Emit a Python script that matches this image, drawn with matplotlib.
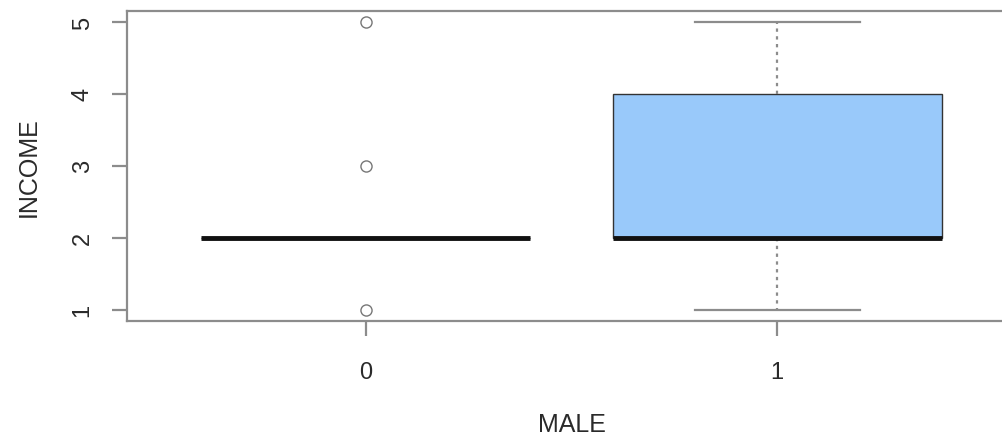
import matplotlib
matplotlib.use("Agg")
import matplotlib.pyplot as plt

# boxplot of INCOME split by MALE (summary stats per group)
groups = ["0", "1"]
medians = [2, 2]
q1 = [2, 2]
q3 = [2, 4]
whisk_lo = [2, 1]
whisk_hi = [2, 5]
outliers = [[1, 3, 5], []]

plt.rcParams["font.family"] = ["Liberation Sans", "DejaVu Sans"]

stats = []
for i, g in enumerate(groups):
    stats.append(dict(label=g, med=medians[i], q1=q1[i], q3=q3[i],
                      whislo=whisk_lo[i], whishi=whisk_hi[i], fliers=outliers[i]))

fig = plt.figure(figsize=(10.03, 4.39), dpi=100)
ax = fig.add_axes([127 / 1003, 117 / 439, (1016 - 127) / 1003, (322 - 11.5) / 439])

grey = "#8c8c8c"
bp = ax.bxp(stats, positions=[1, 2], widths=0.8, capwidths=0.4,
            patch_artist=True,
            boxprops=dict(facecolor="#99c9fa", edgecolor="#333333", linewidth=1.0),
            medianprops=dict(color="#111111", linewidth=3.5, solid_capstyle="butt"),
            whiskerprops=dict(color=grey, linestyle=(0, (1.5, 2)), linewidth=1.6),
            capprops=dict(color=grey, linewidth=1.6),
            flierprops=dict(marker="o", markerfacecolor="none", markeredgecolor="#777777",
                            markersize=8, markeredgewidth=1.0))

ax.set_xlim(0.42, 2.58)
ax.set_ylim(0.84, 5.16)
ax.set_xticks([1, 2])
ax.set_xticklabels(groups)
ax.set_yticks([1, 2, 3, 4, 5])
ax.set_yticklabels(["1", "2", "3", "4", "5"], rotation=90, va="center")

for s in ax.spines.values():
    s.set_color(grey)
    s.set_linewidth(1.6)
ax.tick_params(colors=grey, length=11, width=1.6, labelsize=17, labelcolor="#2a2a2a")
ax.tick_params(axis="y", pad=13)
ax.tick_params(axis="x", pad=18)

ax.set_ylabel("INCOME", fontsize=18, color="#2a2a2a", labelpad=22)
ax.set_xlabel("MALE", fontsize=18, color="#2a2a2a", labelpad=21)

fig.savefig("out.png", dpi=100)
